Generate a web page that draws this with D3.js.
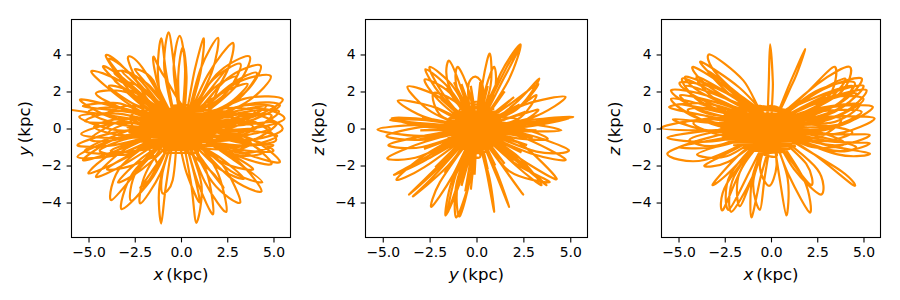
<!DOCTYPE html>
<html>
<head>
<meta charset="utf-8">
<script src="https://cdn.jsdelivr.net/npm/d3@7"></script>
<style>
  html, body { margin: 0; padding: 0; background: #fff; }
  text { font-family: "DejaVu Sans", sans-serif; fill: #000; }
</style>
</head>
<body>
<div id="chart"></div>
<script>
// orbit, one loop per line (kpc)
const xyOrbit = [
  [-5.9,1.0],[-4.5,0.8],[-2.5,0.5],[-0.5,0.2],
  [-2.5,0.9],[-5.45,1.57],[-3.5,0.5],[-0.4,0],
  [-0.9,0.4],[-1.25,3.0],[-1.07,4.87],[-0.8,3.0],
  [-0.3,0.3],[-0.9,3.2],[-0.67,5.2],[-0.35,3.2],
  [0,0.4],[-0.4,3.2],[-0.07,5.0],[0.22,3.2],
  [0,0.3],[-0.15,2.8],[0.1,4.4],[0.3,2.8],
  [0.2,0.4],[0.75,3.2],[1.23,4.87],[1.05,3.0],
  [0.3,0.3],[1.05,3.2],[2.0,4.9],[1.65,3.0],
  [0.3,0.3],[1.45,2.9],[2.8,4.63],[2.35,2.8],
  [0.4,0.3],[1.9,2.9],[3.7,3.9],[2.9,2.2],
  [0.4,0.3],[1.6,2.5],[3.2,3.5],[2.5,2.0],
  [0.5,0.3],[2.5,2.7],[4.3,3.4],[3.3,1.8],
  [0.5,0.3],[2.9,2.4],[4.85,2.83],[3.5,1.4],
  [0.5,0.2],[2.6,2.3],[4.1,3.0],[3.0,1.5],
  [0.5,0.2],[3.4,1.6],[5.5,1.57],[3.8,0.6],
  [0.6,0.1],[3.6,1.3],[5.35,1.26],[3.6,0.4],
  [0.6,0.1],[3.8,1.1],[5.6,0.55],[3.8,0],
  [0.6,0],[3.6,0.8],[5.5,0],[3.6,-0.6],
  [0.6,0],[3.5,0.5],[5.15,-0.6],[3.4,-0.8],
  [0.7,0.1],[3.5,0.9],[5.3,0.9],[3.5,-0.1],
  [0.7,-0.1],[3.4,0.2],[5.2,0.3],[3.5,-0.7],
  [0.6,-0.1],[3.6,-0.5],[5.35,-1.8],[3.6,-1.4],
  [0.6,-0.1],[3.2,-0.5],[4.9,-1.9],[3.1,-1.5],
  [0.5,-0.2],[3.0,-1.1],[5.0,-1.2],[3.0,-0.3],
  [0.5,-0.2],[3.0,-1.7],[4.35,-3.4],[2.6,-2.6],
  [0.5,-0.2],[3.0,-1.8],[4.4,-2.9],[2.7,-2.3],
  [0.4,-0.3],[2.2,-1.9],[3.2,-4.0],[1.7,-2.9],
  [0.4,-0.3],[1.9,-2.2],[2.45,-4.5],[1.3,-2.9],
  [0.3,-0.3],[1.4,-2.4],[1.73,-4.63],[0.9,-2.9],
  [0.2,-0.4],[1.1,-3.0],[0.83,-5.1],[0.55,-3.0],
  [0.1,-0.4],[0.7,-2.4],[1.0,-4.0],[0.3,-2.4],
  [-0.3,-0.4],[-0.8,-3.0],[-1.07,-5.13],[-1.15,-3.0],
  [-0.3,-0.4],[-0.45,-2.8],[-1.0,-3.5],[-1.0,-2.4],
  [-0.4,-0.3],[-1.1,-2.4],[-2.2,-4.05],[-1.9,-2.4],
  [-0.5,-0.3],[-1.5,-2.6],[-3.2,-4.36],[-2.6,-2.4],
  [-0.5,-0.3],[-2.1,-2.0],[-3.77,-3.87],[-3.2,-2.0],
  [-0.5,-0.2],[-1.6,-2.6],[-2.7,-3.9],[-2.4,-2.3],
  [-0.6,-0.2],[-3.0,-1.6],[-5.0,-2.43],[-3.5,-1.2],
  [-0.6,-0.2],[-3.0,-1.9],[-4.6,-2.6],[-3.0,-1.1],
  [-0.6,-0.1],[-3.4,-1.4],[-5.6,-1.53],[-3.6,-0.6],
  [-0.7,-0.1],[-3.6,-0.9],[-5.6,-0.9],[-3.5,-0.2],
  [-0.7,0],[-3.5,-1.2],[-5.3,-1.7],[-3.4,-0.5],
  [-0.7,0],[-3.4,-0.5],[-5.4,-0.3],[-3.4,0.3],
  [-0.7,0.1],[-3.4,-0.1],[-5.5,0.63],[-3.4,0.8],
  [-0.7,0.1],[-3.2,0.2],[-5.0,0.9],[-3.2,1.1],
  [-0.6,0.2],[-3.0,1.0],[-4.6,1.9],[-2.8,1.9],
  [-0.6,0.2],[-2.8,1.3],[-4.85,3.07],[-3.0,2.4],
  [-0.5,0.3],[-2.4,1.6],[-4.05,3.87],[-3.1,3.3],
  [-0.5,0.3],[-2.4,1.9],[-3.9,3.7],[-2.9,3.1],
  [-0.5,0.3],[-2.3,1.4],[-4.2,3.3],[-3.1,2.7],
  [-0.4,0.3],[-1.9,1.7],[-2.87,3.78],[-2.1,3.3],
  [-0.4,0.3],[-2.2,1.9],[-3.6,3.0],[-2.4,2.8],
  [-0.4,0.4],[-1.2,2.2],[-1.5,3.87],[-0.9,2.8],
  // bandes horizontales et diagonales
  [0.8,0.6],[3.4,1.25],[5.1,1.1],[3.2,0.2],
  [0.8,-0.5],[3.0,0.6],[4.9,0.7],[3.0,-0.4],
  [0.8,0.4],[2.8,0.9],[4.6,1.2],[3.0,0.3],
  [0.8,-0.4],[2.9,-0.1],[5.2,-0.4],[3.1,-1.0],
  [0.8,-0.6],[2.9,-0.9],[5.0,-0.9],[3.0,-1.3],
  [0.8,0.2],[3.0,0.4],[4.8,0],[2.8,-0.5],
  [0.8,-0.7],[2.6,-0.4],[4.4,-1.3],[2.6,-1.3],
  [0.9,0.5],[2.5,1.1],[4.0,0.9],[2.4,0.2],
  [0.9,-0.2],[2.4,0.3],[3.9,0.1],[2.4,-0.5],
  [0.9,-0.7],[2.3,-0.6],[3.8,-0.8],[2.2,-1.2],
  [0.8,0.7],[2.2,1.9],[3.6,2.4],[2.5,1.3],
  [0.7,0.7],[1.8,2.2],[3.0,2.8],[2.2,1.7],
  [0.6,0.8],[1.5,2.0],[2.5,3.2],[1.9,1.9],
  [0.8,-0.8],[2.3,-1.2],[3.9,-2.2],[2.4,-1.9],
  [0.7,-0.8],[2.0,-1.5],[3.4,-2.7],[2.1,-2.2],
  [0.6,-0.8],[1.3,-1.9],[2.3,-3.2],[1.5,-2.2],
  [-0.8,-0.6],[-3.2,-1.3],[-5.2,-1.2],[-3.1,-0.2],
  [-0.8,0.5],[-3.0,-0.5],[-4.9,-0.6],[-3.0,0.5],
  [-0.8,0.4],[-2.9,0.3],[-5.2,0.4],[-3.1,1.0],
  [-0.8,0.6],[-2.9,0.9],[-5.3,1.2],[-3.1,1.3],
  [-0.8,-0.2],[-3.0,-0.4],[-4.7,0.1],[-2.8,0.5],
  [-0.8,-0.7],[-2.6,-0.5],[-4.4,-1.2],[-2.6,-1.3],
  [-0.9,0.5],[-2.5,0.3],[-4.0,0.8],[-2.4,1.2],
  [-0.9,-0.2],[-2.4,-0.4],[-3.9,-0.2],[-2.4,0.3],
  [-0.9,-0.7],[-2.3,-1.2],[-3.8,-1.2],[-2.2,-0.5],
  [-0.8,0.7],[-2.5,1.3],[-3.9,2.3],[-2.4,1.9],
  [-0.7,0.7],[-2.2,1.6],[-3.6,2.6],[-2.1,2.2],
  [-0.6,0.8],[-1.9,1.9],[-3.2,3.1],[-1.8,2.4],
  [-0.5,0.8],[-1.5,2.0],[-2.5,3.2],[-1.4,2.4],
  [-0.8,-0.8],[-2.4,-1.9],[-4.0,-2.2],[-2.3,-1.2],
  [-0.7,-0.8],[-2.1,-2.2],[-3.4,-2.9],[-2.0,-1.5],
  [-0.6,-0.8],[-1.5,-2.2],[-2.2,-3.2],[-1.3,-1.9],
  // coeur
  [-2.6,0.8],[2.6,0.9],[-2.7,0.55],[2.8,0.62],[-2.8,0.3],[2.9,0.38],[-2.9,0.05],[2.9,0.1],
  [-2.8,-0.2],[2.9,-0.14],[-2.7,-0.44],[2.8,-0.38],[-2.6,-0.7],[2.6,-0.64],[-2.2,-0.9],[2.3,-0.88],
  [-1.0,-1.15],[0.9,-1.1],[-1.3,-0.95],[1.3,-0.9],[-1.5,-0.78],[1.5,-0.72],[-1.6,-0.6],[1.6,-0.55],
  [-1.7,-0.45],[1.7,-0.4],[-1.8,-0.3],[1.8,-0.25],[-1.8,-0.15],[1.8,-0.1],[-1.8,0],[1.8,0.05],
  [-1.8,0.15],[1.8,0.2],[-1.8,0.3],[1.8,0.35],[-1.7,0.45],[1.7,0.5],[-1.6,0.6],[1.6,0.65],
  [-1.4,0.75],[1.4,0.8],[-1.2,0.9],[1.2,0.95],[-0.9,1.05],[0.9,1.08],[-0.5,1.2],[0.5,1.2],
  [0,0.2],[-0.9,-1.2],[-0.5,-1.3],[0.5,-1.3],[0.9,-1.2],[0,0]
];
const yzOrbit = [
  [0.2,0.1],[1.3,3.0],[2.35,4.54],[1.7,2.6],
  [0.2,0.3],[1.5,3.1],[2.3,4.4],[1.45,2.7],
  [0.1,0.2],[0.35,2.6],[0.71,4.05],[0.75,2.3],
  [0.1,0.3],[0.5,2.2],[0.94,3.33],[0.95,2.0],
  [-0.1,0.2],[-0.45,2.2],[-0.05,2.8],[0.35,2.1],
  [-0.2,0.3],[-1.05,2.2],[-1.0,3.33],[-0.4,2.0],
  [-0.2,0.3],[-1.5,2.4],[-1.46,3.66],[-0.8,2.1],
  [-0.3,0.2],[-1.8,1.9],[-2.5,3.33],[-1.2,2.2],
  [-0.3,0.2],[-1.9,1.8],[-2.72,3.2],[-1.4,2.1],
  [-0.3,0.2],[-2.0,1.5],[-2.76,2.65],[-1.4,1.9],
  [-0.4,0.2],[-2.4,0.9],[-3.68,2.25],[-2.0,1.7],
  [-0.4,0.2],[-2.7,0.6],[-4.2,1.5],[-2.4,1.2],
  [-0.3,0.2],[-1.9,0.7],[-2.3,1.9],[-1.2,1.5],
  [0.3,0.2],[2.0,1.3],[3.34,2.7],[2.3,1.2],
  [0.3,0.2],[1.9,1.4],[3.3,2.4],[2.1,1.0],
  [0.3,0.2],[2.0,1.0],[3.2,1.8],[2.2,0.5],
  [0.3,0.1],[2.6,1.3],[4.75,1.7],[3.0,0.6],
  [0.3,0.1],[2.2,0.7],[3.3,1.0],[2.1,0.2],
  [0.4,0.1],[2.8,0.45],[5.15,0.63],[2.9,0.25],
  [0.4,0],[2.6,0.3],[4.9,0.55],[2.7,0.1],
  [0.4,0],[2.6,-0.15],[4.53,-0.1],[2.6,0.25],
  [0.4,0],[2.2,0.05],[3.8,-0.55],[2.3,-0.55],
  [0.4,-0.1],[2.6,-0.3],[4.92,-1.17],[3.2,-1.25],
  [0.4,-0.1],[2.5,-0.5],[4.75,-1.68],[2.9,-1.35],
  [0.3,-0.2],[2.3,-0.8],[4.27,-2.7],[2.9,-2.0],
  [0.3,-0.2],[2.2,-1.5],[3.47,-3.06],[2.1,-2.0],
  [0.3,-0.2],[2.1,-1.6],[3.73,-3.06],[2.3,-1.9],
  [0.3,-0.3],[1.75,-2.3],[3.9,-2.9],[2.0,-1.85],
  [0.2,-0.3],[1.55,-2.25],[2.49,-3.57],[1.5,-2.2],
  [0.2,-0.3],[1.1,-2.4],[1.74,-4.23],[1.05,-2.5],
  [0.1,-0.3],[0.55,-2.4],[0.94,-4.5],[0.65,-2.5],
  [-0.1,-0.3],[-0.3,-2.5],[-0.9,-4.75],[-1.0,-3.0],
  [-0.1,-0.3],[-0.35,-2.7],[-1.07,-4.8],[-1.05,-2.9],
  [-0.1,-0.3],[-0.8,-2.7],[-1.64,-4.7],[-1.3,-2.8],
  [-0.1,-0.3],[-0.9,-2.7],[-1.55,-4.55],[-1.1,-2.5],
  [-0.2,-0.3],[-1.3,-2.6],[-2.4,-4.23],[-1.95,-2.9],
  [-0.2,-0.3],[-1.6,-2.1],[-3.38,-3.66],[-2.3,-2.6],
  [-0.2,-0.2],[-1.9,-1.9],[-3.6,-3.57],[-2.0,-2.1],
  [-0.3,-0.2],[-2.7,-1.4],[-4.27,-2.76],[-2.8,-2.1],
  [-0.3,-0.2],[-2.6,-1.5],[-4.4,-2.5],[-2.7,-1.7],
  [-0.3,-0.2],[-2.7,-0.7],[-4.76,-1.6],[-3.0,-1.5],
  [-0.4,-0.1],[-2.8,-0.4],[-4.7,-0.9],[-2.9,-1.0],
  [-0.4,0],[-3.0,0.2],[-5.28,-0.05],[-3.0,-0.4],
  [-0.4,0],[-2.7,0.45],[-4.6,0.45],[-2.6,0.25],
  [-0.4,0.05],[-2.7,0.5],[-4.53,0.55],[-2.7,0.1],
  [-0.4,0],[-2.7,0.1],[-4.8,-0.4],[-2.8,-0.6],
  // rayons autour du centre
  [0,0],[2.6,0.9],[0,0],[2.3,1.3],[0,0],[2.0,1.7],[0,0],[1.5,2.0],[0,0],[1.05,2.4],[0,0],[0.6,2.3],
  [0,0],[0.2,2.5],[0,0],[-0.3,2.3],[0,0],[-0.8,2.4],[0,0],[-1.2,2.5],[0,0],[-1.6,2.2],[0,0],[-1.9,1.6],
  [0,0],[-2.3,1.2],[0,0],[-2.9,0.6],[0,0],[-3.2,0.3],[0,0],[-3.0,-0.1],[0,0],[-3.1,-0.6],[0,0],[-2.8,-1.1],
  [0,0],[-2.5,-1.6],[0,0],[-2.2,-2.1],[0,0],[-1.7,-2.4],[0,0],[-1.2,-2.7],[0,0],[-0.8,-3.1],[0,0],[-0.6,-3.4],
  [0,0],[-0.3,-3.3],[0,0],[-0.1,-2.5],[0,0],[0.6,-2.2],[0,0],[1.0,-2.0],[0,0],[1.5,-1.9],[0,0],[2.0,-1.7],
  [0,0],[2.4,-1.3],[0,0],[2.7,-0.9],[0,0],[3.0,-0.5],[0,0],[3.2,-0.1],[0,0],[3.0,0.4],[0,0],[2.2,0.5],
  // coeur
  [-1.2,0.85],[1.2,0.9],[-1.35,0.7],[1.35,0.75],[-1.45,0.55],[1.45,0.6],[-1.55,0.4],[1.5,0.45],
  [-1.6,0.25],[1.55,0.3],[-1.6,0.1],[1.6,0.15],[-1.6,-0.05],[1.6,0],[-1.6,-0.2],[1.55,-0.15],
  [-1.55,-0.35],[1.5,-0.3],[-1.5,-0.5],[1.45,-0.45],[-1.4,-0.65],[1.4,-0.6],[-1.25,-0.8],[1.25,-0.75],
  [-1.05,-0.95],[1.05,-0.9],[-0.8,-1.1],[0.8,-1.05],[-0.5,-1.25],[0.5,-1.25],[-0.3,-1.4],[0.2,-1.4],
  [-0.9,1.0],[0.9,1.05],[-0.6,1.15],[0.6,1.2],[-0.3,1.35],[0.3,1.35],[0,0]
];
const xzOrbit = [
  [-0.2,0.2],[-0.12,2.5],[-0.05,4.55],[0.1,2.5],
  [0.1,0.4],[1.0,2.4],[1.84,4.29],[1.15,2.4],
  [-0.1,0.4],[-1.5,2.6],[-3.3,4.0],[-2.9,2.9],
  [-0.1,0.4],[-1.7,2.2],[-3.77,3.6],[-3.0,2.7],
  [-0.1,0.3],[-2.2,2.1],[-4.2,3.33],[-3.4,2.3],
  [-0.1,0.3],[-2.4,1.9],[-4.6,2.8],[-3.7,1.9],
  [-0.1,0.3],[-2.5,2.0],[-4.9,2.5],[-3.8,1.6],
  [-0.2,0.3],[-3.0,1.9],[-4.8,2.7],[-3.7,1.4],
  [-0.2,0.2],[-3.2,1.7],[-5.4,2.07],[-3.8,1.0],
  [-0.2,0.2],[-3.2,1.3],[-5.5,1.17],[-3.6,0.7],
  [-0.2,0.1],[-3.4,1.2],[-5.4,1.6],[-3.8,0.5],
  [-0.3,0],[-3.4,0.5],[-5.94,0.03],[-3.4,-0.1],
  [-0.3,0],[-3.2,-0.1],[-5.6,-0.5],[-3.2,-0.7],
  [-0.3,0],[-3.2,0.3],[-5.3,0.5],[-3.4,-0.1],
  [-0.3,-0.1],[-3.0,-0.4],[-5.6,-1.35],[-3.6,-1.7],
  [-0.3,-0.1],[-3.0,-0.6],[-5.0,-1.0],[-3.0,-1.0],
  [-0.3,-0.2],[-2.4,-0.8],[-4.0,-1.4],[-2.4,-1.5],
  [-0.3,-0.2],[-1.9,-1.1],[-3.6,-2.0],[-2.3,-1.8],
  [-0.2,-0.3],[-1.7,-1.4],[-3.14,-3.0],[-2.4,-2.5],
  [-0.2,-0.3],[-1.5,-2.0],[-2.6,-4.4],[-2.4,-3.0],
  [-0.2,-0.3],[-1.0,-2.6],[-2.15,-4.5],[-2.0,-2.6],
  [-0.2,-0.3],[-1.0,-2.6],[-1.7,-4.2],[-1.7,-2.4],
  [-0.2,-0.3],[-1.2,-2.4],[-2.3,-4.4],[-2.2,-2.5],
  [-0.1,-0.3],[-0.6,-2.8],[-1.06,-4.8],[-1.0,-2.6],
  [-0.1,-0.3],[-0.95,-2.8],[-0.6,-4.4],[-0.35,-2.7],
  [0,-0.3],[-0.6,-2.0],[-0.1,-3.1],[0.3,-2.0],
  [0.1,-0.3],[0.45,-2.6],[0.83,-4.7],[0.9,-2.7],
  [0.1,-0.3],[0.95,-2.5],[2.1,-4.54],[1.8,-2.8],
  [0.2,-0.3],[1.25,-2.2],[2.7,-3.57],[2.5,-2.2],
  [0.2,-0.3],[1.05,-1.7],[2.18,-3.06],[1.9,-1.9],
  [0.2,-0.2],[2.2,-1.3],[4.44,-3.06],[3.8,-2.3],
  [0.3,-0.1],[3.0,-0.9],[5.34,-1.35],[3.6,-1.4],
  [0.3,-0.1],[3.2,-0.7],[5.34,-0.8],[3.4,-1.2],
  [0.3,0],[3.2,-0.3],[5.34,-0.36],[3.3,-0.9],
  [0.3,0],[3.2,0.6],[5.6,0.54],[3.4,-0.3],
  [0.3,0.1],[3.0,1.1],[5.5,1.17],[3.6,0.2],
  [0.3,0.2],[3.0,1.6],[5.16,2.07],[3.6,0.7],
  [0.2,0.2],[3.0,1.8],[5.0,2.3],[3.5,1.0],
  [0.2,0.2],[2.8,2.1],[4.9,2.7],[3.6,1.3],
  [0.2,0.2],[2.5,2.4],[4.26,3.33],[3.6,1.8],
  [0.2,0.2],[2.0,2.0],[3.45,3.33],[3.0,1.6],
  [0.2,0.2],[2.4,2.0],[4.5,2.5],[3.4,1.2],
  [0.2,0.1],[2.8,1.6],[5.0,1.6],[3.2,0.5],
  [0.2,0],[2.6,0.9],[4.9,0.9],[2.9,0],
  [0.2,0],[2.0,0.6],[3.8,0.5],[2.4,-0.5],
  [0.2,-0.1],[2.2,-0.1],[4.0,-0.8],[2.2,-1.0],
  [-0.2,0.1],[-2.4,0.6],[-4.2,0.3],[-2.4,-0.4],
  [-0.2,0.1],[-2.2,1.0],[-4.5,1.0],[-2.6,0.1],
  // ailes
  [-0.5,0.6],[-2.4,1.6],[-4.6,2.3],[-3.4,1.2],
  [-0.5,0.4],[-2.6,1.3],[-4.9,1.8],[-3.4,0.8],
  [-0.5,0.7],[-2.0,1.7],[-4.0,2.8],[-3.0,1.6],
  [-0.5,0.8],[-1.8,1.9],[-3.4,3.1],[-2.4,2.0],
  [-0.4,0.3],[-2.8,0.9],[-5.1,1.3],[-3.2,0.3],
  [-0.4,0.2],[-2.6,0.5],[-4.7,0.3],[-2.8,-0.2],
  [-0.4,0],[-2.6,-0.1],[-4.4,-0.6],[-2.8,-0.9],
  [0.5,0.5],[2.3,1.3],[4.6,1.9],[3.2,0.8],
  [0.5,0.4],[2.6,1.1],[4.8,1.3],[3.2,0.3],
  [0.5,0.6],[2.2,1.6],[4.4,2.3],[3.2,1.1],
  [0.5,0.7],[2.0,1.7],[4.0,2.7],[3.0,1.5],
  [0.4,0.2],[2.6,0.6],[4.6,0.6],[2.8,-0.1],
  [0.4,0],[2.4,0.2],[4.4,-0.2],[2.6,-0.7],
  [0.4,-0.1],[2.4,-0.4],[4.6,-1.0],[2.8,-1.1],
  // coeur
  [-2.3,0.9],[1.3,0.85],[-2.5,0.75],[1.5,0.7],[-2.6,0.6],[1.7,0.55],[-2.7,0.45],[1.8,0.4],
  [-2.8,0.3],[1.9,0.25],[-2.8,0.15],[1.9,0.1],[-2.8,0],[1.9,-0.05],[-2.8,-0.15],[1.8,-0.2],
  [-2.7,-0.3],[1.8,-0.35],[-2.6,-0.45],[1.7,-0.5],[-2.5,-0.6],[1.6,-0.65],[-2.3,-0.75],[1.5,-0.8],
  [-2.0,-0.9],[1.3,-0.95],[-1.5,-1.05],[1.0,-1.1],[-1.0,-1.2],[0.7,-1.25],[-0.5,-1.35],[0.3,-1.35],
  [-1.6,1.1],[0.8,1.0],[-1.0,1.15],[0.4,1.1],[-0.2,1.15],[0,0]
];

const xTicks = [-5, -2.5, 0, 2.5, 5];
const yTicks = [-4, -2, 0, 2, 4];
const panels = [
  { data: xyOrbit, xName: "x", yName: "y", left: 71.5, right: 290.5, limX: 5.92 },
  { data: yzOrbit, xName: "y", yName: "z", left: 365.5, right: 587.5, limX: 5.92 },
  { data: xzOrbit, xName: "x", yName: "z", left: 661.5, right: 880.5, limX: 5.92 }
];

const axTop = 19.5, axBottom = 237.5, limY = 5.89;

const svg = d3.select("#chart")
  .append("svg")
  .attr("width", 900)
  .attr("height", 300)
  .style("display", "block");

// ajoute le label "x (kpc)" avec la lettre en italique
function addLabel(sel, name) {
  sel.append("tspan").attr("font-style", "italic").text(name);
  sel.append("tspan").attr("dx", 3).text("(kpc)");
}

panels.forEach(p => {
  const xScale = d3.scaleLinear().domain([-p.limX, p.limX]).range([p.left, p.right]);
  const yScale = d3.scaleLinear().domain([-limY, limY]).range([axBottom, axTop]);

  const line = d3.line()
    .x(d => xScale(d[0]))
    .y(d => yScale(d[1]))
    .curve(d3.curveCatmullRom.alpha(0));

  svg.append("path")
    .datum(p.data)
    .attr("d", line)
    .attr("fill", "none")
    .attr("stroke", "#ff8c00")
    .attr("stroke-width", 2.2);

  svg.append("rect")
    .attr("x", p.left)
    .attr("y", axTop)
    .attr("width", p.right - p.left)
    .attr("height", axBottom - axTop)
    .attr("fill", "none")
    .attr("stroke", "#000")
    .attr("stroke-width", 1.1);

  const xAxis = svg.append("g")
    .attr("transform", `translate(0,${axBottom})`)
    .call(d3.axisBottom(xScale).tickValues(xTicks).tickFormat(d3.format(".1f")).tickSize(4.9).tickPadding(4.9).tickSizeOuter(0));
  const yAxis = svg.append("g")
    .attr("transform", `translate(${p.left},0)`)
    .call(d3.axisLeft(yScale).tickValues(yTicks).tickFormat(d3.format("d")).tickSize(4.9).tickPadding(4.9).tickSizeOuter(0));

  [xAxis, yAxis].forEach(a => {
    a.select(".domain").remove();
    a.selectAll("line").attr("stroke-width", 1.1);
    a.selectAll("text").style("font-size", "13.9px").style("font-family", "'DejaVu Sans'");
  });

  svg.append("text")
    .attr("x", (p.left + p.right) / 2)
    .attr("y", 280)
    .attr("text-anchor", "middle")
    .style("font-size", "16.6px")
    .call(addLabel, p.xName);

  svg.append("text")
    .attr("transform", `translate(${p.left - 42},${(axTop + axBottom) / 2}) rotate(-90)`)
    .attr("text-anchor", "middle")
    .style("font-size", "16.6px")
    .call(addLabel, p.yName);
});
</script>
</body>
</html>
